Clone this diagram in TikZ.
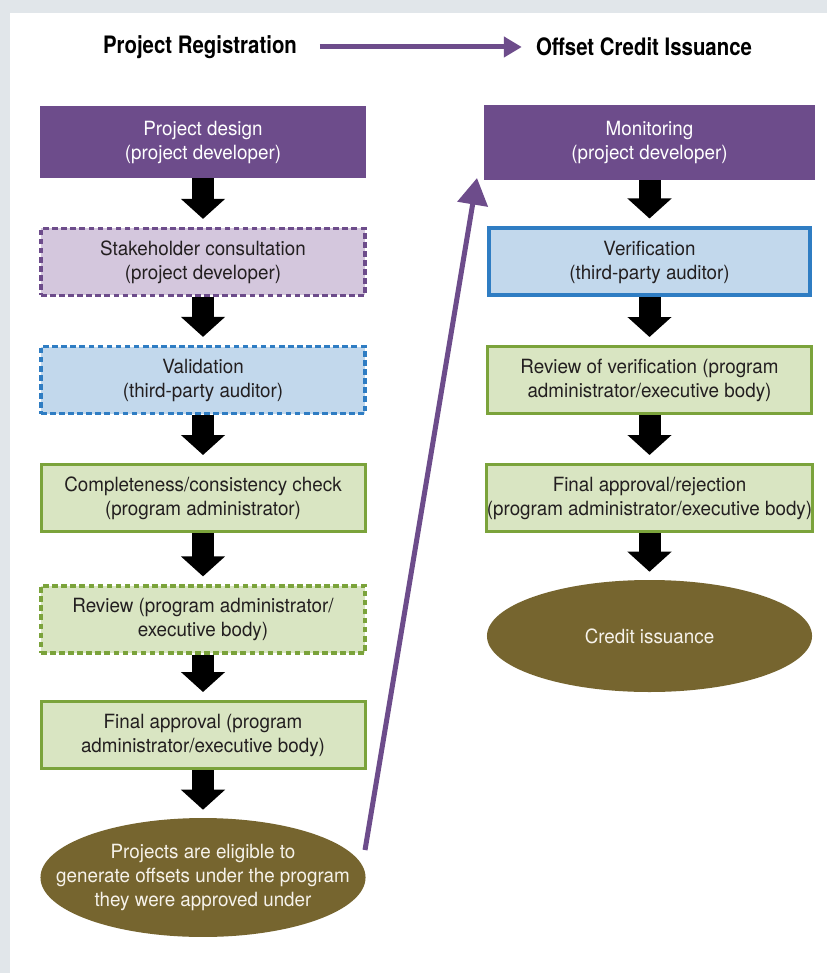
\documentclass[tikz,border=0pt]{standalone}
\usepackage{fontspec}
\setmainfont{TeX Gyre Heros}[FakeStretch=0.96]
\newfontfamily\headfont{TeX Gyre Heros}[FakeStretch=0.85]
\usetikzlibrary{arrows.meta}
\definecolor{frame}{HTML}{E1E6EA}
\definecolor{plum}{HTML}{6D4C8B}
\definecolor{plumlight}{HTML}{D4C7DD}
\definecolor{skyline}{HTML}{2F7DC3}
\definecolor{skyfill}{HTML}{C2D8EC}
\definecolor{leaf}{HTML}{7BA33B}
\definecolor{leaffill}{HTML}{D9E5C2}
\definecolor{olive}{HTML}{76652F}
\definecolor{ink}{HTML}{231F20}
\definecolor{paper}{HTML}{F6F2EA}
\begin{document}
\begin{tikzpicture}[x=0.75pt,y=-0.75pt,
  txt/.style={font=\fontsize{14.7}{18}\selectfont, align=center},
  box/.style={txt, rectangle, inner sep=0pt, text=ink,
    minimum width=243pt, minimum height=50.25pt},
  solidbox/.style={box, draw=#1, line width=2.25pt},
  dashbox/.style={box, draw=#1, line width=2.4pt, dash pattern=on 4.2pt off 2.6pt},
  headbox/.style={box, fill=plum, text=white, minimum width=244.5pt, minimum height=54pt},
  goal/.style={txt, text=paper, inner sep=0pt},
  title/.style={font=\headfont\bfseries\fontsize{18}{22}\selectfont, text=black, inner sep=0pt},
  blk/.style={line width=16.5pt, -{Triangle[width=32.25pt,length=15pt]}, shorten >=6pt},
  flow/.style={plum, line width=3.75pt, -{Triangle[width=22.5pt,length=20pt]}}
]
% page and panel
\fill[frame] (0,0) rectangle (827,973);
\fill[white] (10,13) rectangle (827,973);
\useasboundingbox (0,0) rectangle (827,973);

% headings
\node[title] (t1) at (200,47) {Project Registration};
\node[title] (t2) at (644,47) {Offset Credit Issuance};
\draw[plum, line width=3.75pt, -{Triangle[width=15pt,length=13.5pt]}]
  ([xshift=17pt]t1.east) -- ([xshift=-10.5pt]t2.west);

% registration column
\node[headbox] (pd) at (203,142) {Project design\\(project developer)};
\node[dashbox=plum, fill=plumlight] (sc) at (203,262) {Stakeholder consultation\\(project developer)};
\node[dashbox=skyline, fill=skyfill] (val) at (203,380) {Validation\\(third-party auditor)};
\node[solidbox=leaf, fill=leaffill] (cc) at (203,498) {Completeness/consistency check\\(program administrator)};
\node[dashbox=leaf, fill=leaffill] (rev) at (203,619.5) {Review (program administrator/\\executive body)};
\node[solidbox=leaf, fill=leaffill] (fa) at (203,735) {Final approval (program\\administrator/executive body)};
\fill[olive] (203,877.5) ellipse [x radius=121.9pt, y radius=44.6pt];
\node[goal, minimum height=89.25pt] (elig) at (203,877.5)
  {Projects are eligible to\\generate offsets under the program\\they were approved under};

% issuance column
\node[headbox, minimum width=248pt, minimum height=56.25pt] (mon) at (649.5,142.5) {Monitoring\\(project developer)};
\node[box, draw=skyline, line width=3pt, fill=skyfill, minimum width=241pt] (ver) at (649.5,262) {Verification\\(third-party auditor)};
\node[solidbox=leaf, fill=leaffill] (rv) at (649.5,380) {Review of verification (program\\administrator/executive body)};
\node[solidbox=leaf, fill=leaffill] (far) at (649.5,498) {Final approval/rejection\\(program administrator/executive body)};
\fill[olive] (649.5,636) ellipse [x radius=121.9pt, y radius=42pt];
\node[goal, minimum height=84pt] (ci) at (649.5,636) {Credit issuance};

% step arrows
\draw[blk] (pd.south) -- (sc.north);
\draw[blk] (sc.south) -- (val.north);
\draw[blk] (val.south) -- (cc.north);
\draw[blk] (cc.south) -- (rev.north);
\draw[blk] (rev.south) -- (fa.north);
\draw[blk] (fa.south) -- (elig.north);
\draw[blk] (mon.south) -- (ver.north);
\draw[blk] (ver.south) -- (rv.north);
\draw[blk] (rv.south) -- (far.north);
\draw[blk] (far.south) -- (ci.north);

% hand-over from registration to monitoring
\coordinate (handoff) at (365,850);
\coordinate (entry) at (477,178);
\draw[flow] (handoff) -- (entry);
\end{tikzpicture}
\end{document}
